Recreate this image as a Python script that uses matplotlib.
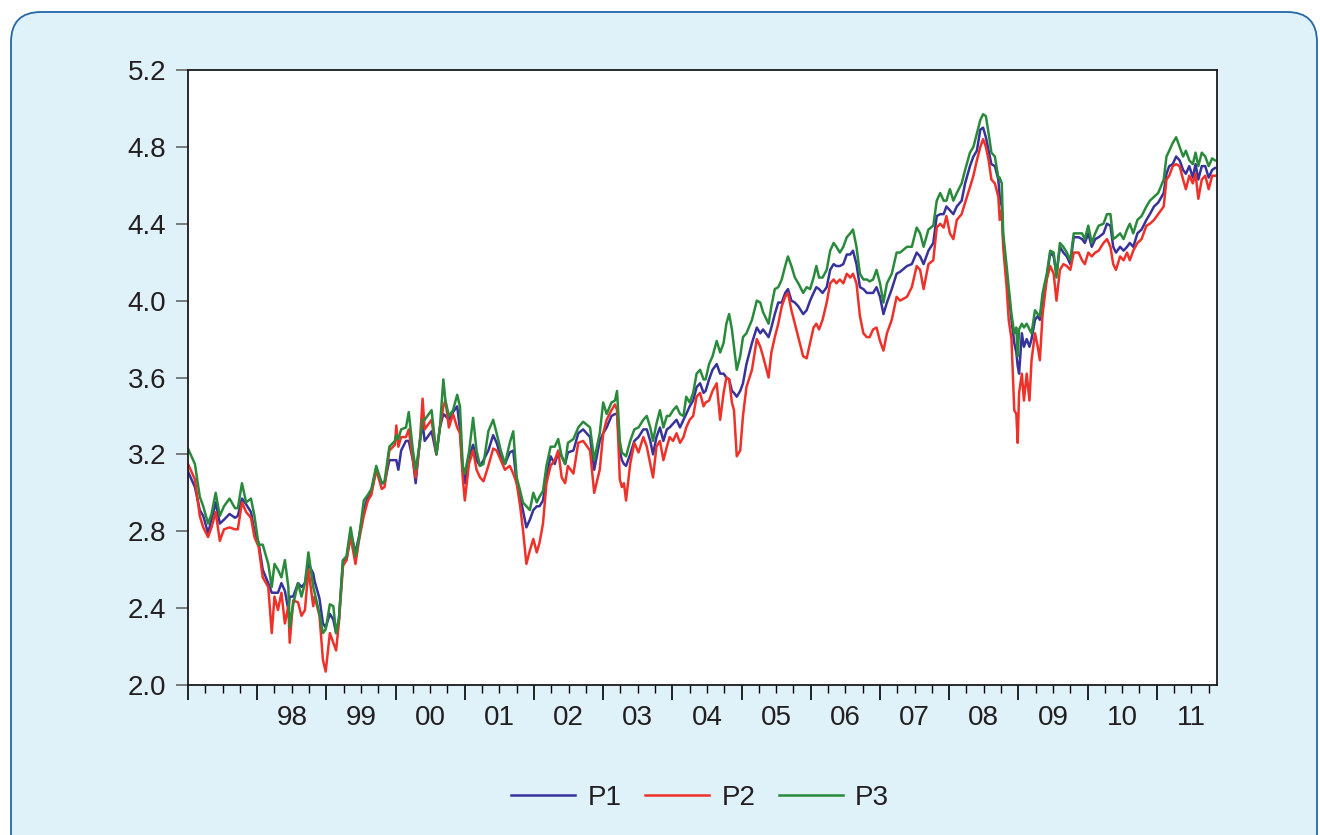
import matplotlib
matplotlib.use("Agg")
import matplotlib.pyplot as plt
from matplotlib.patches import FancyBboxPatch
from matplotlib.lines import Line2D
from matplotlib.transforms import blended_transform_factory
import numpy as np

plt.rcParams['font.family'] = ['Liberation Sans', 'DejaVu Sans']

# ---- data: weekly-ish samples, decimal years ----
t = [
    1997.00, 1997.10, 1997.17, 1997.22, 1997.29, 1997.34, 1997.40, 1997.46, 1997.52, 1997.60,
    1997.68, 1997.72, 1997.78, 1997.84, 1997.91, 1997.96, 1998.02, 1998.08, 1998.16, 1998.21,
    1998.25, 1998.30, 1998.35, 1998.40, 1998.45, 1998.47, 1998.52, 1998.59, 1998.64, 1998.69,
    1998.74, 1998.81,
    1998.83, 1998.90, 1998.95, 1998.99, 1999.05, 1999.10, 1999.14, 1999.18, 1999.24, 1999.29,
    1999.35, 1999.42, 1999.47, 1999.54, 1999.60, 1999.65, 1999.72, 1999.80, 1999.84, 1999.91,
    1999.99, 2000.01, 2000.04, 2000.08, 2000.15, 2000.19, 2000.25, 2000.29, 2000.35, 2000.39,
    2000.42, 2000.52, 2000.59, 2000.64, 2000.69, 2000.72, 2000.77, 2000.83, 2000.89, 2000.93,
    2000.97, 2001.00, 2001.06, 2001.12, 2001.17, 2001.22, 2001.27, 2001.34, 2001.41, 2001.46,
    2001.52, 2001.58, 2001.65, 2001.70, 2001.75, 2001.80, 2001.84, 2001.89, 2001.94, 2001.99,
    2002.04, 2002.08, 2002.13, 2002.18, 2002.24, 2002.30, 2002.35, 2002.40, 2002.45, 2002.49,
    2002.57, 2002.64, 2002.71,
    2002.81, 2002.87, 2002.95, 2003.00, 2003.05, 2003.12, 2003.17, 2003.20, 2003.24, 2003.27,
    2003.30, 2003.33, 2003.39, 2003.45, 2003.51, 2003.58, 2003.63, 2003.68, 2003.72, 2003.77,
    2003.82, 2003.87, 2003.92, 2003.96, 2004.01, 2004.06, 2004.11, 2004.16, 2004.20, 2004.25,
    2004.30, 2004.35, 2004.40, 2004.45, 2004.48, 2004.53, 2004.58, 2004.64, 2004.69, 2004.74,
    2004.78, 2004.82, 2004.86, 2004.89, 2004.93, 2004.98, 2005.02, 2005.07,
    2005.15, 2005.22, 2005.27, 2005.31, 2005.39, 2005.43, 2005.48, 2005.53, 2005.58, 2005.63,
    2005.67, 2005.72, 2005.77, 2005.82, 2005.89, 2005.94, 2005.99, 2006.04, 2006.08, 2006.12,
    2006.17, 2006.23, 2006.28, 2006.33, 2006.37, 2006.42, 2006.47, 2006.52, 2006.57, 2006.61,
    2006.66, 2006.71, 2006.76, 2006.81, 2006.85, 2006.90, 2006.95, 2007.00, 2007.05, 2007.10,
    2007.17, 2007.24,
    2007.29, 2007.39, 2007.46, 2007.53, 2007.58, 2007.63, 2007.70, 2007.77, 2007.82, 2007.87,
    2007.92, 2007.96, 2008.01, 2008.06, 2008.11, 2008.18, 2008.23, 2008.30, 2008.35, 2008.40,
    2008.45, 2008.49, 2008.53, 2008.57, 2008.61, 2008.66, 2008.71, 2008.73, 2008.76, 2008.78,
    2008.83, 2008.86, 2008.90, 2008.94, 2008.97, 2008.99, 2009.01, 2009.05, 2009.08, 2009.12,
    2009.16, 2009.19, 2009.24, 2009.28, 2009.31, 2009.35, 2009.41, 2009.46, 2009.51, 2009.55,
    2009.60, 2009.65, 2009.70, 2009.75, 2009.80, 2009.87, 2009.92, 2009.96, 2010.01, 2010.06,
    2010.11, 2010.16, 2010.23, 2010.28, 2010.33, 2010.37, 2010.41, 2010.47, 2010.52, 2010.57,
    2010.61, 2010.66, 2010.72, 2010.78, 2010.85, 2010.90, 2010.96, 2011.02, 2011.10, 2011.14,
    2011.18, 2011.23, 2011.28, 2011.33, 2011.38, 2011.42, 2011.47, 2011.52, 2011.56, 2011.60,
    2011.65, 2011.70, 2011.75, 2011.80, 2011.84,
]

P1 = [
    3.11, 3.03, 2.91, 2.88, 2.79, 2.86, 2.95, 2.84, 2.86, 2.89,
    2.87, 2.88, 2.97, 2.94, 2.90, 2.80, 2.74, 2.60, 2.53, 2.48,
    2.48, 2.48, 2.53, 2.49, 2.39, 2.46, 2.46, 2.53, 2.51, 2.53,
    2.63, 2.58,
    2.54, 2.45, 2.32, 2.30, 2.37, 2.34, 2.27, 2.34, 2.65, 2.65,
    2.79, 2.69, 2.77, 2.91, 2.98, 3.01, 3.12, 3.05, 3.05, 3.17,
    3.17, 3.17, 3.12, 3.22, 3.27, 3.27, 3.17, 3.05, 3.27, 3.36,
    3.27, 3.32, 3.20, 3.34, 3.41, 3.40, 3.38, 3.42, 3.45, 3.33,
    3.12, 3.05, 3.19, 3.25, 3.17, 3.14, 3.17, 3.22, 3.30, 3.26,
    3.19, 3.15, 3.21, 3.22, 3.05, 2.98, 2.91, 2.82, 2.86, 2.91,
    2.93, 2.93, 2.96, 3.08, 3.19, 3.15, 3.21, 3.19, 3.15, 3.21,
    3.22, 3.31, 3.33,
    3.29, 3.12, 3.27, 3.31, 3.34, 3.40, 3.41, 3.41, 3.22, 3.17,
    3.15, 3.14, 3.20, 3.27, 3.29, 3.33, 3.33, 3.27, 3.20, 3.29,
    3.34, 3.27, 3.33, 3.34, 3.36, 3.38, 3.34, 3.38, 3.41, 3.45,
    3.48, 3.55, 3.57, 3.52, 3.53, 3.59, 3.64, 3.67, 3.62, 3.62,
    3.60, 3.59, 3.53, 3.52, 3.50, 3.53, 3.57, 3.67,
    3.78, 3.86, 3.83, 3.85, 3.81, 3.86, 3.93, 3.99, 3.99, 4.04,
    4.06, 4.00, 3.99, 3.97, 3.93, 3.95, 4.00, 4.04, 4.07, 4.06,
    4.04, 4.07, 4.16, 4.19, 4.18, 4.18, 4.19, 4.24, 4.24, 4.26,
    4.19, 4.07, 4.06, 4.04, 4.04, 4.04, 4.07, 4.02, 3.93, 3.99,
    4.06, 4.14,
    4.15, 4.18, 4.19, 4.25, 4.23, 4.19, 4.26, 4.30, 4.44, 4.45,
    4.45, 4.49, 4.47, 4.45, 4.49, 4.52, 4.61, 4.70, 4.75, 4.78,
    4.89, 4.90, 4.85, 4.78, 4.71, 4.70, 4.63, 4.54, 4.49, 4.32,
    4.12, 4.04, 3.90, 3.78, 3.73, 3.66, 3.62, 3.83, 3.76, 3.80,
    3.76, 3.80, 3.90, 3.92, 3.90, 4.00, 4.12, 4.25, 4.23, 4.14,
    4.28, 4.25, 4.23, 4.19, 4.33, 4.33, 4.32, 4.30, 4.35, 4.28,
    4.32, 4.33, 4.35, 4.40, 4.39, 4.28, 4.25, 4.28, 4.26, 4.28,
    4.30, 4.28, 4.35, 4.37, 4.42, 4.45, 4.49, 4.51, 4.56, 4.66,
    4.70, 4.71, 4.75, 4.73, 4.68, 4.66, 4.70, 4.64, 4.71, 4.63,
    4.70, 4.70, 4.64, 4.68, 4.69,
]

P2 = [
    3.15, 3.07, 2.88, 2.82, 2.77, 2.82, 2.90, 2.75, 2.81, 2.82,
    2.81, 2.81, 2.95, 2.90, 2.87, 2.77, 2.72, 2.56, 2.51, 2.27,
    2.46, 2.39, 2.48, 2.32, 2.41, 2.22, 2.44, 2.43, 2.36, 2.39,
    2.60, 2.41,
    2.46, 2.36, 2.13, 2.07, 2.27, 2.22, 2.18, 2.32, 2.62, 2.65,
    2.77, 2.63, 2.75, 2.88, 2.96, 2.99, 3.12, 3.02, 3.03, 3.22,
    3.25, 3.35, 3.24, 3.29, 3.29, 3.33, 3.17, 3.08, 3.26, 3.49,
    3.33, 3.38, 3.20, 3.34, 3.45, 3.48, 3.34, 3.41, 3.34, 3.31,
    3.08, 2.96, 3.15, 3.22, 3.12, 3.08, 3.06, 3.14, 3.23, 3.22,
    3.17, 3.12, 3.14, 3.10, 3.05, 2.93, 2.81, 2.63, 2.70, 2.76,
    2.69, 2.74, 2.84, 3.05, 3.14, 3.17, 3.22, 3.08, 3.05, 3.14,
    3.10, 3.26, 3.27,
    3.22, 3.00, 3.12, 3.31, 3.38, 3.43, 3.46, 3.43, 3.07, 3.03,
    3.05, 2.96, 3.15, 3.26, 3.21, 3.29, 3.24, 3.15, 3.08, 3.24,
    3.27, 3.17, 3.24, 3.29, 3.27, 3.31, 3.26, 3.29, 3.34, 3.38,
    3.40, 3.50, 3.52, 3.45, 3.47, 3.48, 3.53, 3.57, 3.38, 3.52,
    3.60, 3.59, 3.47, 3.43, 3.19, 3.22, 3.40, 3.55,
    3.64, 3.80, 3.76, 3.71, 3.60, 3.73, 3.81, 3.88, 3.97, 4.02,
    4.04, 3.95, 3.88, 3.81, 3.71, 3.70, 3.78, 3.86, 3.88, 3.85,
    3.90, 3.99, 4.09, 4.11, 4.09, 4.11, 4.09, 4.14, 4.12, 4.14,
    4.09, 3.92, 3.83, 3.81, 3.81, 3.85, 3.86, 3.79, 3.74, 3.83,
    3.90, 4.02,
    4.00, 4.02, 4.07, 4.18, 4.16, 4.06, 4.19, 4.21, 4.38, 4.40,
    4.38, 4.44, 4.35, 4.32, 4.42, 4.45, 4.51, 4.59, 4.65, 4.73,
    4.80, 4.84, 4.80, 4.73, 4.63, 4.61, 4.54, 4.42, 4.47, 4.28,
    4.07, 3.90, 3.80, 3.43, 3.41, 3.26, 3.52, 3.62, 3.48, 3.62,
    3.48, 3.69, 3.83, 3.76, 3.69, 3.93, 4.11, 4.18, 4.14, 4.00,
    4.16, 4.19, 4.18, 4.16, 4.25, 4.25, 4.21, 4.19, 4.25, 4.23,
    4.25, 4.26, 4.30, 4.32, 4.28, 4.19, 4.16, 4.23, 4.21, 4.25,
    4.21, 4.26, 4.30, 4.32, 4.39, 4.40, 4.42, 4.45, 4.49, 4.63,
    4.65, 4.70, 4.71, 4.70, 4.63, 4.58, 4.65, 4.61, 4.66, 4.53,
    4.63, 4.65, 4.58, 4.65, 4.65,
]

P3 = [
    3.23, 3.15, 2.98, 2.93, 2.84, 2.89, 3.00, 2.88, 2.93, 2.97,
    2.92, 2.92, 3.05, 2.95, 2.97, 2.88, 2.73, 2.73, 2.63, 2.51,
    2.63, 2.60, 2.56, 2.65, 2.51, 2.30, 2.42, 2.53, 2.46, 2.53,
    2.69, 2.51,
    2.48, 2.37, 2.27, 2.29, 2.42, 2.41, 2.27, 2.34, 2.65, 2.67,
    2.82, 2.67, 2.76, 2.96, 2.99, 3.02, 3.14, 3.05, 3.06, 3.24,
    3.27, 3.30, 3.28, 3.33, 3.34, 3.42, 3.22, 3.12, 3.26, 3.38,
    3.38, 3.43, 3.20, 3.34, 3.59, 3.48, 3.40, 3.43, 3.51, 3.45,
    3.14, 3.10, 3.21, 3.39, 3.22, 3.14, 3.15, 3.32, 3.38, 3.31,
    3.22, 3.15, 3.26, 3.32, 3.08, 3.01, 2.95, 2.93, 2.91, 3.00,
    2.95, 2.98, 3.01, 3.14, 3.24, 3.24, 3.28, 3.19, 3.15, 3.26,
    3.28, 3.34, 3.37,
    3.34, 3.17, 3.31, 3.47, 3.41, 3.47, 3.48, 3.53, 3.27, 3.21,
    3.20, 3.19, 3.27, 3.33, 3.34, 3.38, 3.40, 3.34, 3.27, 3.36,
    3.43, 3.34, 3.40, 3.40, 3.43, 3.45, 3.41, 3.40, 3.50, 3.47,
    3.52, 3.62, 3.64, 3.59, 3.59, 3.67, 3.71, 3.79, 3.73, 3.78,
    3.88, 3.93, 3.85, 3.76, 3.64, 3.71, 3.81, 3.83,
    3.90, 4.00, 3.99, 3.94, 3.88, 3.97, 4.06, 4.07, 4.11, 4.18,
    4.23, 4.18, 4.12, 4.09, 4.04, 4.07, 4.06, 4.12, 4.18, 4.12,
    4.12, 4.16, 4.26, 4.30, 4.28, 4.25, 4.28, 4.33, 4.35, 4.37,
    4.28, 4.14, 4.11, 4.11, 4.10, 4.11, 4.16, 4.09, 3.99, 4.09,
    4.14, 4.25,
    4.25, 4.28, 4.28, 4.38, 4.35, 4.28, 4.37, 4.39, 4.52, 4.56,
    4.52, 4.52, 4.58, 4.52, 4.56, 4.61, 4.68, 4.77, 4.80, 4.87,
    4.94, 4.97, 4.96, 4.87, 4.77, 4.75, 4.64, 4.64, 4.61, 4.35,
    4.18, 4.07, 3.93, 3.83, 3.86, 3.71, 3.85, 3.88, 3.86, 3.88,
    3.85, 3.83, 3.95, 3.93, 3.92, 4.04, 4.14, 4.26, 4.25, 4.12,
    4.30, 4.28, 4.25, 4.21, 4.35, 4.35, 4.35, 4.32, 4.39, 4.30,
    4.35, 4.39, 4.40, 4.45, 4.45, 4.32, 4.33, 4.35, 4.32, 4.37,
    4.40, 4.35, 4.42, 4.44, 4.49, 4.52, 4.54, 4.56, 4.63, 4.75,
    4.78, 4.82, 4.85, 4.80, 4.75, 4.78, 4.73, 4.71, 4.77, 4.70,
    4.77, 4.75, 4.70, 4.74, 4.73,
]

series_names = ["P1", "P2", "P3"]
series_colors = ["#38339a", "#ee3129", "#2a8a3c"]
year_labels = ["98", "99", "00", "01", "02", "03", "04", "05", "06", "07", "08", "09", "10", "11"]
y_ticks = [2.0, 2.4, 2.8, 3.2, 3.6, 4.0, 4.4, 4.8, 5.2]

# ---- figure ----
W, H = 1320, 835
fig = plt.figure(figsize=(W / 100, H / 100), dpi=100)
fig.patch.set_facecolor("white")

# rounded light-blue panel behind the chart (pixel coordinates)
panel = FancyBboxPatch((11, -40), 1306, 835 - 12 + 40,
                       boxstyle="round,pad=0,rounding_size=30",
                       transform=None, facecolor="#dff1f9",
                       edgecolor="#2467a8", linewidth=1.3, zorder=-5)
fig.patches.append(panel)

ax = fig.add_axes([188 / W, 1 - 685 / H, (1217 - 188) / W, (685 - 70) / H])
ax.set_zorder(1)
ax.set_facecolor("white")

for name, vals, col in zip(series_names, [P1, P2, P3], series_colors):
    ax.plot(t, vals, color=col, lw=1.8, label=name, solid_joinstyle="round")

ax.set_xlim(1997.0, 2011.87)
ax.set_ylim(2.0, 5.2)

txt_color = "#231f20"

ax.set_yticks(y_ticks)
ax.set_yticklabels([f"{v:.1f}" for v in y_ticks])
ax.tick_params(axis="y", direction="out", length=8.6, width=1.2, color="#666666",
               labelsize=20, pad=7, labelcolor=txt_color, right=False)

years = np.arange(1997, 2012)
ax.set_xticks(years)
ax.set_xticklabels([])
ax.set_xticks(np.arange(1997, 2011.9, 0.25), minor=True)
ax.tick_params(axis="x", which="major", direction="out", length=10.8, width=1.2, color="black")
ax.tick_params(axis="x", which="minor", direction="out", length=5.8, width=1.0, color="black")

trans = blended_transform_factory(ax.transData, ax.transAxes)
for yr, lab in zip(range(1998, 2012), year_labels):
    ax.text(yr + 0.5, -33 / 615, lab, transform=trans, ha="center", va="center",
            fontsize=20, color=txt_color, clip_on=False)

for sp in ax.spines.values():
    sp.set_color("#1a1a1a")
    sp.set_linewidth(1.3)

handles = [Line2D([], [], color=c, lw=1.8) for c in series_colors]
fig.legend(handles, series_names, loc="center", bbox_to_anchor=(700 / W, 1 - 798 / H),
           ncol=3, frameon=False, fontsize=20, handlelength=2.3, handletextpad=0.45,
           columnspacing=0.85, labelcolor=txt_color)

fig.savefig("out.png", dpi=100, facecolor=fig.get_facecolor())
